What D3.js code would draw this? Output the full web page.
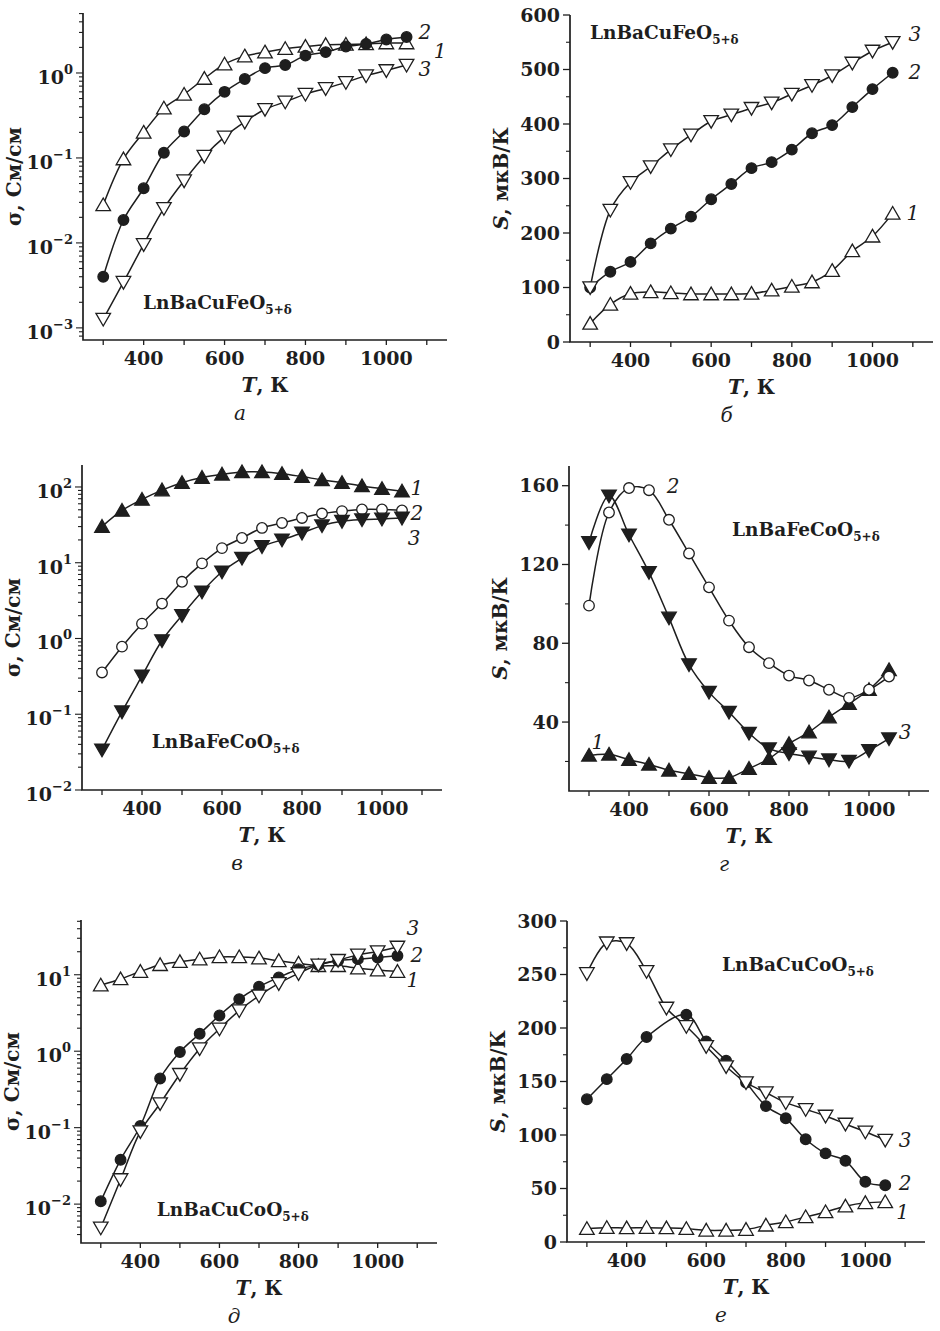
<!DOCTYPE html>
<html><head><meta charset="utf-8">
<script src="https://cdn.jsdelivr.net/npm/d3@7/dist/d3.min.js"></script>
<style>
body{margin:0;background:#fff}
svg{display:block}
text{font-family:"DejaVu Serif","Liberation Serif",serif;fill:#1e1e1e}
</style>
</head><body>
<svg id="c" width="940" height="1331"></svg>
<script>
// ---------- data ----------
const T = [300,350,400,450,500,550,600,650,700,750,800,850,900,950,1000,1050];
const xDomain = [250,1150];
const xTicks = [300,400,500,600,700,800,900,1000,1100];
const xTickLabels = [400,600,800,1000];

// panel а : conductivity, LnBaCuFeO5+δ
const sigmaCuFe1 = [0.028,0.097,0.20,0.385,0.56,0.86,1.27,1.58,1.76,1.93,2.05,2.15,2.17,2.2,2.25,2.25];
const sigmaCuFe2 = [0.004,0.0186,0.044,0.115,0.205,0.374,0.60,0.85,1.14,1.24,1.6,1.76,2.05,2.19,2.48,2.65];
const sigmaCuFe3 = [0.00127,0.00345,0.0096,0.0255,0.054,0.105,0.177,0.265,0.374,0.457,0.564,0.658,0.775,0.93,1.07,1.24];
const yExpCuFe = [-3,-2,-1,0];

// panel б : Seebeck, LnBaCuFeO5+δ
const seebeckCuFe1 = [34,69,89,92,90,88,88,88,89,95,102,110,131,167,194,236];
const seebeckCuFe2 = [100,129,147,181,208,230,262,290,319,330,353,383,398,431,464,494];
const seebeckCuFe3 = [100,242,293,322,353,380,405,417,429,439,455,471,489,512,534,550];
const yTicksSeebeckCuFe = [0,100,200,300,400,500,600];
const yMinorSeebeckCuFe = [50,150,250,350,450,550];

// panel в : conductivity, LnBaFeCoO5+δ
const sigmaFeCo1 = [30,49,68.5,91,114,133,147,158,158,150,137,124,114,103,95,88];
const sigmaFeCo2 = [0.356,0.78,1.57,2.89,5.6,9.8,15.6,21.2,28.8,33.5,39,44.6,48,50.5,50.5,49];
const sigmaFeCo3 = [0.034,0.108,0.32,0.94,2.02,4.13,7.6,11.5,16.4,20.1,24.7,30.9,35.3,37.1,37.9,39];
const yExpFeCo = [-2,-1,0,1,2];

// panel г : Seebeck, LnBaFeCoO5+δ
const seebeckFeCo1 = [23.1,23.6,20.9,18.5,15.5,13.8,11.8,11.8,16.4,21.4,29,34.9,42.5,49.3,56.4,66.5];
const seebeckFeCo2 = [99.1,146.4,158.8,157.7,142.7,125.6,108.4,91.5,78,69.9,63.6,61.1,56.4,52.3,56.4,63.1];
const seebeckFeCo3 = [131.2,154.9,135.1,116,92.9,69.2,55.2,45.1,34.4,26.5,24,22.3,20.9,20.2,25.6,31.6];
const yTicksSeebeckFeCo = [40,80,120,160];
const yMinorSeebeckFeCo = [20,60,100,140];

// panel д : conductivity, LnBaCuCoO5+δ
const sigmaCuCo1 = [7.3,8.8,11.0,13.5,14.8,16,17.1,17.1,16.5,15.2,14.1,13.1,13.1,12.2,11.5,11.0];
const sigmaCuCo2 = [0.0109,0.038,0.105,0.44,0.975,1.69,2.93,4.8,6.98,9.2,11.8,13.5,15.2,16,16.8,17.7];
const sigmaCuCo3 = [0.0049,0.021,0.089,0.207,0.5,1.08,1.96,3.4,5.3,7.7,10.4,13.5,15.5,18.2,20.1,23.1];
const yExpCuCo = [-2,-1,0,1];

// panel е : Seebeck, LnBaCuCoO5+δ
const seebeckCuCo1 = [12.5,13.4,13.1,13.4,13.1,12.5,10.9,10.9,11.6,15.6,18.75,23.4,28.1,33.4,36.6,37.5];
const seebeckCuCo2 = [133.4,152.2,171,191.6,null,212.5,187.5,169.4,149,127,115.6,96,82.8,75.9,56.25,53];
const seebeckCuCo3 = [251,279.7,279,253,218.75,201.6,182.8,164,149,139.7,130.3,124,117.8,110.3,103,95.3];
const yTicksSeebeckCuCo = [0,50,100,150,200,250,300];
const yMinorSeebeckCuCo = [25,75,125,175,225,275];

// ---------- drawing ----------
const ink = "#1e1e1e";
const svg = d3.select("#c");
const FS = 19;

function drawPanel(p){
  const g = svg.append("g");
  const x = d3.scaleLinear().domain(xDomain).range([p.x0, p.x0 + p.w]);
  const y = (p.log ? d3.scaleLog() : d3.scaleLinear()).domain(p.yDomain).range([p.y0 + p.h, p.y0]);

  g.append("path")
    .attr("d", `M${p.x0},${p.y0}V${p.y0 + p.h}H${p.x0 + p.w}`)
    .attr("fill","none").attr("stroke",ink).attr("stroke-width",1.7);

  const yb = p.y0 + p.h;
  xTicks.forEach(t => {
    g.append("line").attr("x1",x(t)).attr("x2",x(t)).attr("y1",yb).attr("y2",yb+5)
      .attr("stroke",ink).attr("stroke-width",1.3);
  });
  xTickLabels.forEach(t => {
    g.append("text").attr("x",x(t)).attr("y",yb+25).attr("text-anchor","middle")
      .attr("font-size",FS).attr("font-weight","bold").text(t);
  });

  if (p.log){
    const [lo, hi] = p.yDomain;
    for (let e = Math.floor(Math.log10(lo)); e <= Math.ceil(Math.log10(hi)); e++){
      for (let m = 1; m <= 9; m++){
        const v = m * Math.pow(10, e);
        if (v < lo || v > hi) continue;
        g.append("line").attr("x1",p.x0).attr("x2",p.x0 - (m === 1 ? 7 : 4))
          .attr("y1",y(v)).attr("y2",y(v)).attr("stroke",ink).attr("stroke-width",1.1);
      }
    }
    p.yExp.forEach(e => {
      const t = g.append("text").attr("x",p.x0 - 10).attr("y",y(Math.pow(10,e)) + 11)
        .attr("text-anchor","end").attr("font-size",FS).attr("font-weight","bold");
      t.append("tspan").text("10");
      t.append("tspan").attr("dy",-10).attr("font-size",13).text(String(e).replace("-","\u2212"));
    });
  } else {
    p.yMinor.forEach(v => {
      g.append("line").attr("x1",p.x0).attr("x2",p.x0-4).attr("y1",y(v)).attr("y2",y(v))
        .attr("stroke",ink).attr("stroke-width",1.1);
    });
    p.yTicks.forEach(v => {
      g.append("line").attr("x1",p.x0).attr("x2",p.x0-7).attr("y1",y(v)).attr("y2",y(v))
        .attr("stroke",ink).attr("stroke-width",1.3);
      g.append("text").attr("x",p.x0 - 10).attr("y",y(v)).attr("dy","0.35em")
        .attr("text-anchor","end").attr("font-size",FS).attr("font-weight","bold").text(v);
    });
  }

  const line = d3.line()
    .x(d => x(d[0])).y(d => y(d[1])).curve(d3.curveCatmullRom.alpha(0.5));
  p.series.forEach(s => {
    const pts = T.map((t,i) => [t, s.vals[i]]).filter(d => d[1] !== null);
    g.append("path").attr("d", line(pts))
      .attr("fill","none").attr("stroke",ink).attr("stroke-width",1.5);
  });
  p.series.forEach(s => {
    const pts = T.map((t,i) => [t, s.vals[i]]).filter(d => d[1] !== null);
    const sym = s.marker === "circle" ? d3.symbol(d3.symbolCircle, 88) : d3.symbol(d3.symbolTriangle, 92);
    g.selectAll(null).data(pts).enter().append("path")
      .attr("d", sym)
      .attr("transform", d => `translate(${x(d[0])},${y(d[1]) + (s.marker==="up"?1.5:s.marker==="down"?-1.5:0)})` + (s.marker === "down" ? " rotate(180)" : ""))
      .attr("fill", s.filled ? ink : "#fff").attr("stroke",ink).attr("stroke-width",1.3);
  });

  p.labels.forEach(l => {
    g.append("text").attr("x",x(l[1])).attr("y",y(l[2])).attr("dy","0.35em")
      .attr("text-anchor","middle").attr("font-size",20).attr("font-style","italic").text(l[0]);
  });

  const c = g.append("text").attr("x",p.x0 + p.cx * p.w).attr("y",p.y0 + p.cy * p.h)
    .attr("font-size",18.5).attr("font-weight","bold");
  c.append("tspan").text(p.compound);
  c.append("tspan").attr("dy",5).attr("font-size",12).text("5+\u03b4");

  const yt = g.append("text").attr("transform",`translate(${p.x0 - 62},${p.y0 + p.h/2}) rotate(-90)`)
    .attr("text-anchor","middle").attr("font-size",20).attr("font-weight","bold");
  if (p.log){
    yt.text("\u03c3, См/см");
  } else {
    yt.append("tspan").attr("font-style","italic").text("S");
    yt.append("tspan").text(", мкВ/К");
  }

  const xt = g.append("text").attr("x",p.x0 + p.w/2).attr("y",yb + 52)
    .attr("text-anchor","middle").attr("font-size",20).attr("font-weight","bold");
  xt.append("tspan").attr("font-style","italic").text("T");
  xt.append("tspan").text(", К");

  g.append("text").attr("x",p.x0 + p.w/2 - 25).attr("y",yb + 80)
    .attr("text-anchor","middle").attr("font-size",20).attr("font-style","italic").text(p.letter);
}

const panels = [
  {x0:83, y0:13, w:364, h:327, log:true, yDomain:[7.2e-4, 5.08], yExp:yExpCuFe,
   series:[{vals:sigmaCuFe1, marker:"up", filled:false},{vals:sigmaCuFe2, marker:"circle", filled:true},{vals:sigmaCuFe3, marker:"down", filled:false}],
   labels:[["2",1095,3.0],["1",1133,1.8],["3",1095,1.12]],
   compound:"LnBaCuFeO", cx:0.165, cy:0.905, letter:"а"},
  {x0:570, y0:15, w:363, h:327, log:false, yDomain:[0,600], yTicks:yTicksSeebeckCuFe, yMinor:yMinorSeebeckCuFe,
   series:[{vals:seebeckCuFe1, marker:"up", filled:false},{vals:seebeckCuFe2, marker:"circle", filled:true},{vals:seebeckCuFe3, marker:"down", filled:false}],
   labels:[["3",1105,566],["2",1105,495],["1",1100,236]],
   compound:"LnBaCuFeO", cx:0.055, cy:0.073, letter:"б"},
  {x0:82, y0:465, w:360, h:325, log:true, yDomain:[0.01, 195], yExp:yExpFeCo,
   series:[{vals:sigmaFeCo1, marker:"up", filled:true},{vals:sigmaFeCo2, marker:"circle", filled:false},{vals:sigmaFeCo3, marker:"down", filled:true}],
   labels:[["1",1087,96],["2",1087,45],["3",1080,21]],
   compound:"LnBaFeCoO", cx:0.194, cy:0.871, letter:"в"},
  {x0:569, y0:466, w:360, h:325, log:false, yDomain:[5,170], yTicks:yTicksSeebeckFeCo, yMinor:yMinorSeebeckFeCo,
   series:[{vals:seebeckFeCo1, marker:"up", filled:true},{vals:seebeckFeCo2, marker:"circle", filled:false},{vals:seebeckFeCo3, marker:"down", filled:true}],
   labels:[["2",510,160],["1",322,30],["3",1090,35]],
   compound:"LnBaFeCoO", cx:0.453, cy:0.215, letter:"г"},
  {x0:81, y0:920, w:356, h:323, log:true, yDomain:[0.0031, 52], yExp:yExpCuCo,
   series:[{vals:sigmaCuCo1, marker:"up", filled:false},{vals:sigmaCuCo2, marker:"circle", filled:true},{vals:sigmaCuCo3, marker:"down", filled:false}],
   labels:[["3",1089,41],["2",1099,18.2],["1",1089,8.6]],
   compound:"LnBaCuCoO", cx:0.213, cy:0.916, letter:"д"},
  {x0:567, y0:921, w:358, h:321, log:false, yDomain:[0,300], yTicks:yTicksSeebeckCuCo, yMinor:yMinorSeebeckCuCo,
   series:[{vals:seebeckCuCo1, marker:"up", filled:false},{vals:seebeckCuCo2, marker:"circle", filled:true},{vals:seebeckCuCo3, marker:"down", filled:false}],
   labels:[["3",1100,95],["2",1100,55],["1",1094,28]],
   compound:"LnBaCuCoO", cx:0.433, cy:0.156, letter:"е"}
];
panels.forEach(drawPanel);
</script>
</body></html>
